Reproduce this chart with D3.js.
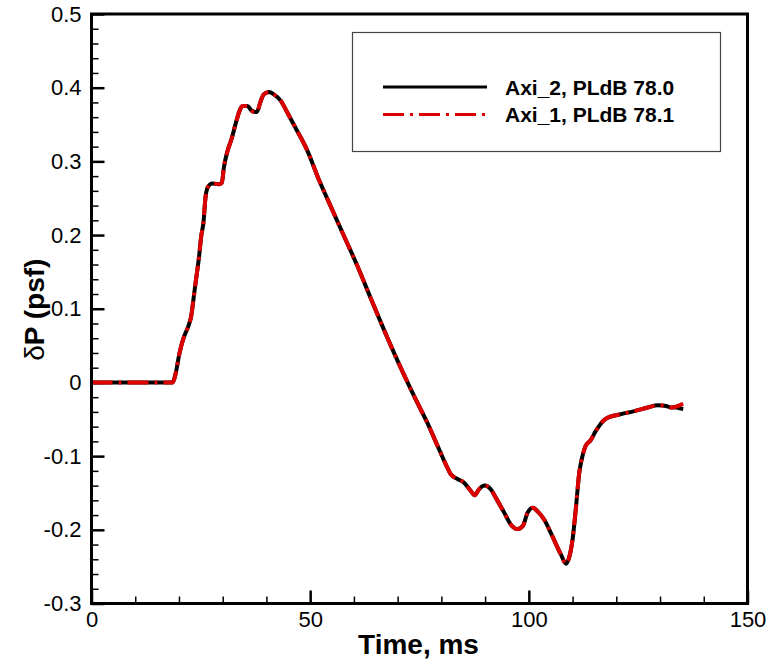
<!DOCTYPE html>
<html>
<head>
    <title>Pressure signature</title>
    <script src="https://d3js.org/d3.v7.min.js"></script>
    <style>
        body { margin: 0; background-color: #ffffff; }
        svg { display: block; font-family: "Liberation Sans", Arial, Helvetica, sans-serif; }
        .ticklbl text { font-size: 22px; fill: #000; }
        .axtitle { font-size: 28px; font-weight: bold; fill: #000; }
        .legtext { font-size: 21px; font-weight: bold; fill: #000; }
    </style>
</head>
<body>
<svg id="chart"></svg>
<script>
    // time in ms
    const time = [0, 18.5, 19.2, 20.0, 20.5, 21.1, 22.3, 22.8, 23.4, 24.0, 24.6, 25.1, 25.6, 26.1, 26.7,
        27.6, 29.1, 29.8, 30.3, 31.1, 32.0, 33.0, 33.7, 34.5, 35.6, 36.8, 37.8, 38.7, 39.4, 40.6, 41.7,
        43.3, 44.8, 46.7, 49.4, 52.0, 54.7, 57.7, 60.8, 63.8, 68.0, 70.7, 73.8, 76.8, 79.5, 81.4, 82.2,
        83.7, 85.2, 86.7, 87.6, 88.6, 89.9, 91.3, 92.5, 94.4, 95.9, 97.4, 98.6, 99.7, 100.9, 102.0, 103.5,
        105.4, 107.3, 108.5, 109.2, 110.0, 110.8, 111.5, 112.3, 113.0, 114.2, 115.1, 116.1, 116.9, 118.0,
        121.1, 124.1, 127.2, 129.5, 131.4, 132.5, 133.6, 134.4, 135.3];

    // dP in psf
    const axi2 = [0, 0, 0.011, 0.036, 0.049, 0.061, 0.079, 0.090, 0.117, 0.144, 0.171, 0.199, 0.217, 0.253, 0.266,
        0.270, 0.269, 0.271, 0.293, 0.314, 0.330, 0.352, 0.366, 0.375, 0.375, 0.368, 0.367, 0.382, 0.391, 0.394, 0.391,
        0.382, 0.366, 0.345, 0.314, 0.275, 0.239, 0.199, 0.158, 0.115, 0.056, 0.020, -0.019, -0.055, -0.091, -0.116, -0.125,
        -0.131, -0.136, -0.147, -0.153, -0.145, -0.140, -0.145, -0.157, -0.177, -0.193, -0.199, -0.195, -0.177, -0.170, -0.175, -0.186,
        -0.209, -0.233, -0.246, -0.238, -0.213, -0.168, -0.124, -0.099, -0.086, -0.078, -0.068, -0.059, -0.053, -0.048,
        -0.043, -0.039, -0.034, -0.031, -0.032, -0.034, -0.034, -0.035, -0.036];

    const axi1 = [0, 0, 0.011, 0.036, 0.049, 0.061, 0.079, 0.090, 0.117, 0.144, 0.171, 0.199, 0.217, 0.253, 0.266,
        0.270, 0.269, 0.271, 0.293, 0.314, 0.330, 0.352, 0.366, 0.375, 0.375, 0.368, 0.367, 0.382, 0.391, 0.394, 0.391,
        0.382, 0.366, 0.345, 0.314, 0.275, 0.239, 0.199, 0.158, 0.115, 0.056, 0.020, -0.019, -0.055, -0.091, -0.116, -0.125,
        -0.131, -0.136, -0.147, -0.153, -0.145, -0.140, -0.145, -0.157, -0.177, -0.193, -0.199, -0.195, -0.177, -0.170, -0.175, -0.186,
        -0.209, -0.233, -0.246, -0.238, -0.213, -0.168, -0.124, -0.099, -0.086, -0.078, -0.068, -0.059, -0.053, -0.048,
        -0.043, -0.039, -0.034, -0.031, -0.032, -0.034, -0.033, -0.031, -0.029];

    const xTicks = [0, 50, 100, 150];
    const yTicks = [-0.3, -0.2, -0.1, 0, 0.1, 0.2, 0.3, 0.4, 0.5];
    const seriesNames = ["Axi_2, PLdB 78.0", "Axi_1, PLdB 78.1"];

    let width = 775, height = 660;
    let plotL = 91.5, plotR = 747.5, plotT = 14, plotB = 603.5;

    let svg = d3.select("#chart").attr("width", width).attr("height", height);
    svg.append("rect").attr("width", width).attr("height", height).attr("fill", "#fff");

    let x = d3.scaleLinear().domain([0, 150]).range([plotL, plotR]);
    let y = d3.scaleLinear().domain([-0.3, 0.5]).range([plotB, plotT]);

    // minor ticks
    let xMinor = d3.range(0, 151, 10).filter(v => v % 50 != 0);
    let yMinor = d3.range(-30, 51, 2).filter(v => v % 10 != 0).map(v => v / 100);

    svg.append("g").attr("transform", "translate(0," + plotB + ")")
        .call(d3.axisBottom(x).tickValues(xMinor).tickSize(-7).tickFormat(""))
        .call(g => g.select(".domain").remove())
        .call(g => g.selectAll("line").attr("stroke", "#000").attr("stroke-width", 1.5));
    svg.append("g").attr("transform", "translate(" + plotL + ",0)")
        .call(d3.axisLeft(y).tickValues(yMinor).tickSize(-7).tickFormat(""))
        .call(g => g.select(".domain").remove())
        .call(g => g.selectAll("line").attr("stroke", "#000").attr("stroke-width", 1.5));

    // major ticks + labels (plain hyphen for negatives, like the original)
    let yFmt = d => d == 0 ? "0" : d3.format(".1f")(d).replace("\u2212", "-");

    svg.append("g").attr("class", "ticklbl").attr("transform", "translate(0," + plotB + ")")
        .call(d3.axisBottom(x).tickValues(xTicks).tickSize(-13).tickPadding(8).tickFormat(d3.format("d")))
        .call(g => g.select(".domain").remove())
        .call(g => g.selectAll("line").attr("stroke", "#000").attr("stroke-width", 2.5))
        .call(g => g.selectAll("text").attr("font-family", null).attr("font-size", null));
    svg.append("g").attr("class", "ticklbl").attr("transform", "translate(" + plotL + ",0)")
        .call(d3.axisLeft(y).tickValues(yTicks).tickSize(-13).tickPadding(10).tickFormat(yFmt))
        .call(g => g.select(".domain").remove())
        .call(g => g.selectAll("line").attr("stroke", "#000").attr("stroke-width", 2.5))
        .call(g => g.selectAll("text").attr("font-family", null).attr("font-size", null));

    // curves
    let line = d3.line().curve(d3.curveMonotoneX);
    let pts2 = time.map((t, i) => [x(t), y(axi2[i])]);
    let pts1 = time.map((t, i) => [x(t), y(axi1[i])]);

    svg.append("path").attr("d", line(pts2)).attr("fill", "none")
        .attr("stroke", "#000").attr("stroke-width", 4);
    svg.append("path").attr("d", line(pts1)).attr("fill", "none")
        .attr("stroke", "#dd0000").attr("stroke-width", 4)
        .attr("stroke-dasharray", "21,6,3,6");

    // frame
    svg.append("rect").attr("x", plotL).attr("y", plotT)
        .attr("width", plotR - plotL).attr("height", plotB - plotT)
        .attr("fill", "none").attr("stroke", "#000").attr("stroke-width", 3);

    // legend
    let leg = svg.append("g");
    leg.append("rect").attr("x", 352.5).attr("y", 32.5).attr("width", 368).attr("height", 119)
        .attr("fill", "#fff").attr("stroke", "#444").attr("stroke-width", 1.2);
    let legStyles = [{ c: "#000", dash: null }, { c: "#dd0000", dash: "21,6,3,6" }];
    seriesNames.forEach((name, i) => {
        let ly = 87 + i * 27.5;
        leg.append("line").attr("x1", 383).attr("x2", 487).attr("y1", ly).attr("y2", ly)
            .attr("stroke", legStyles[i].c).attr("stroke-width", 3)
            .attr("stroke-dasharray", legStyles[i].dash);
        leg.append("text").attr("class", "legtext").attr("x", 505).attr("y", ly + 7.5).text(name);
    });

    // axis titles
    svg.append("text").attr("class", "axtitle").attr("x", (plotL + plotR) / 2 - 1).attr("y", 654)
        .attr("text-anchor", "middle").text("Time, ms");
    let yt = svg.append("text").attr("class", "axtitle")
        .attr("transform", "translate(44," + ((plotT + plotB) / 2 + 1) + ") rotate(-90)")
        .attr("text-anchor", "middle");
    yt.append("tspan").attr("font-weight", "normal").text("δ");
    yt.append("tspan").text("P (psf)");
</script>
</body>
</html>
